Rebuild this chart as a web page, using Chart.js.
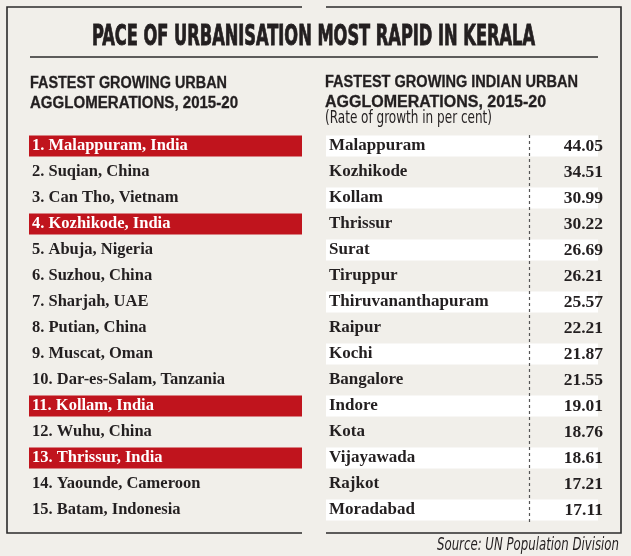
<!DOCTYPE html>
<html>
<head>
<meta charset="utf-8">
<script src="https://cdn.jsdelivr.net/npm/chart.js@4.4.1/dist/chart.umd.min.js"></script>
<style>
  html, body { margin: 0; padding: 0; background: #f1efea; }
  #wrap { position: relative; width: 631px; height: 556px; }
  #wrap canvas { position: absolute; left: 0; top: 0; }
</style>
</head>
<body>
<div id="wrap">
  <canvas id="world" width="631" height="556"></canvas>
  <canvas id="india" width="631" height="556"></canvas>
</div>
<script>
const globalCities = ['Malappuram', 'Suqian', 'Can Tho', 'Kozhikode', 'Abuja', 'Suzhou', 'Sharjah', 'Putian', 'Muscat', 'Dar-es-Salam', 'Kollam', 'Wuhu', 'Thrissur', 'Yaounde', 'Batam']
const globalCountries = ['India', 'China', 'Vietnam', 'India', 'Nigeria', 'China', 'UAE', 'China', 'Oman', 'Tanzania', 'India', 'China', 'India', 'Cameroon', 'Indonesia']
const indianCities = ['Malappuram', 'Kozhikode', 'Kollam', 'Thrissur', 'Surat', 'Tiruppur', 'Thiruvananthapuram', 'Raipur', 'Kochi', 'Bangalore', 'Indore', 'Kota', 'Vijayawada', 'Rajkot', 'Moradabad']
const growthRates = [44.05, 34.51, 30.99, 30.22, 26.69, 26.21, 25.57, 22.21, 21.87, 21.55, 19.01, 18.76, 18.61, 17.21, 17.11]

const INK = '#231f20'
const RED = '#c0141d'
const BG = '#f1efea'
const SERIF = '"Liberation Serif", "DejaVu Serif", serif'
const NARROW = '"Liberation Sans Narrow", "DejaVu Sans Condensed", sans-serif'
const SANS = '"Liberation Sans", Arial, sans-serif'

const worldLabels = globalCities.map((c, i) => `${i + 1}. ${c}, ${globalCountries[i]}`)
const isIndia = globalCountries.map(c => c === 'India')

// mirrored label axes should not take any room from the chart area
const noWidth = (scale) => { scale.width = 0 }

// title, headings, frame and source note
const frame = {
  id: 'frame',
  beforeDraw(chart) {
    const ctx = chart.ctx
    ctx.save()
    ctx.fillStyle = BG
    ctx.fillRect(0, 0, chart.width, chart.height)

    ctx.strokeStyle = '#2b2b2b'
    ctx.lineWidth = 1.6
    ctx.beginPath()
    ctx.moveTo(302, 7); ctx.lineTo(7, 7); ctx.lineTo(7, 533); ctx.lineTo(302, 533)
    ctx.moveTo(326, 7); ctx.lineTo(621, 7); ctx.lineTo(621, 533); ctx.lineTo(326, 533)
    ctx.stroke()

    ctx.lineWidth = 1.4
    ctx.beginPath()
    ctx.moveTo(30, 57); ctx.lineTo(598, 57)
    ctx.stroke()

    ctx.fillStyle = INK
    ctx.strokeStyle = INK
    ctx.textBaseline = 'alphabetic'
    ctx.textAlign = 'left'
    ctx.font = `bold 29px ${NARROW}`
    ctx.lineWidth = 0.9
    ctx.fillText('PACE OF URBANISATION MOST RAPID IN KERALA', 92, 45, 443)
    ctx.strokeText('PACE OF URBANISATION MOST RAPID IN KERALA', 92, 45, 443)

    ctx.font = `bold 16px ${SANS}`
    ctx.lineWidth = 0.3
    const heads = [
      ['FASTEST GROWING URBAN', 30, 88, 197],
      ['AGGLOMERATIONS, 2015-20', 30, 108, 208],
      ['FASTEST GROWING INDIAN URBAN', 325, 87, 253],
      ['AGGLOMERATIONS, 2015-20', 325, 107, 222],
    ]
    for (const [t, x, y, w] of heads) {
      ctx.fillText(t, x, y, w)
      ctx.strokeText(t, x, y, w)
    }

    ctx.font = `17px ${NARROW}`
    ctx.fillText('(Rate of growth in per cent)', 325, 123, 167)

    ctx.font = `italic 17px ${NARROW}`
    ctx.textAlign = 'right'
    ctx.fillText('Source: UN Population Division', 619, 550, 182)
    ctx.restore()
  }
}

// dashed rule between city names and rates
const dividerAt = 0.746
const divider = {
  id: 'divider',
  afterDatasetsDraw(chart) {
    const { ctx, chartArea, scales } = chart
    const x = Math.round(scales.x.getPixelForValue(dividerAt)) + 0.5
    ctx.save()
    ctx.strokeStyle = '#555'
    ctx.lineWidth = 1.2
    ctx.setLineDash([3, 3])
    ctx.beginPath()
    ctx.moveTo(x, chartArea.top + 2)
    ctx.lineTo(x, chartArea.bottom - 1)
    ctx.stroke()
    ctx.restore()
  }
}

new Chart(document.getElementById('world'), {
  type: 'bar',
  data: {
    labels: worldLabels,
    datasets: [{
      data: isIndia.map(v => v ? 1 : null),
      backgroundColor: RED,
      borderWidth: 0,
      barPercentage: 0.81,
      categoryPercentage: 1,
    }]
  },
  options: {
    indexAxis: 'y',
    responsive: false,
    animation: false,
    events: [],
    layout: { padding: { left: 29, right: 329, top: 133, bottom: 33 } },
    plugins: { legend: { display: false }, tooltip: { enabled: false } },
    scales: {
      x: { display: false, min: 0, max: 1 },
      y: {
        afterFit: noWidth,
        grid: { display: false, drawTicks: false },
        border: { display: false },
        ticks: {
          z: 1,
          mirror: true,
          padding: 3,
          color: (c) => isIndia[c.index] ? '#ffffff' : INK,
          font: { family: SERIF, size: 16.5, weight: 'bold' },
        }
      }
    }
  },
  plugins: [frame]
})

new Chart(document.getElementById('india'), {
  type: 'bar',
  data: {
    labels: indianCities,
    datasets: [{
      data: indianCities.map((_, i) => i % 2 === 0 ? 1 : null),
      backgroundColor: '#ffffff',
      borderWidth: 0,
      barPercentage: 0.81,
      categoryPercentage: 1,
    }]
  },
  options: {
    indexAxis: 'y',
    responsive: false,
    animation: false,
    events: [],
    layout: { padding: { left: 326, right: 33, top: 133, bottom: 33 } },
    plugins: { legend: { display: false }, tooltip: { enabled: false } },
    scales: {
      x: { display: false, min: 0, max: 1 },
      y: {
        afterFit: noWidth,
        grid: { display: false, drawTicks: false },
        border: { display: false },
        ticks: {
          z: 1,
          mirror: true,
          padding: 3,
          color: INK,
          font: { family: SERIF, size: 17, weight: 'bold' },
        }
      },
      rate: {
        type: 'category',
        position: 'right',
        labels: growthRates.map(v => v.toFixed(2)),
        offset: true,
        afterFit: noWidth,
        grid: { display: false, drawTicks: false },
        border: { display: false },
        ticks: {
          z: 1,
          mirror: true,
          padding: 5,
          color: INK,
          font: { family: SERIF, size: 17.5, weight: 'bold' },
        }
      }
    }
  },
  plugins: [divider]
})
</script>
</body>
</html>
